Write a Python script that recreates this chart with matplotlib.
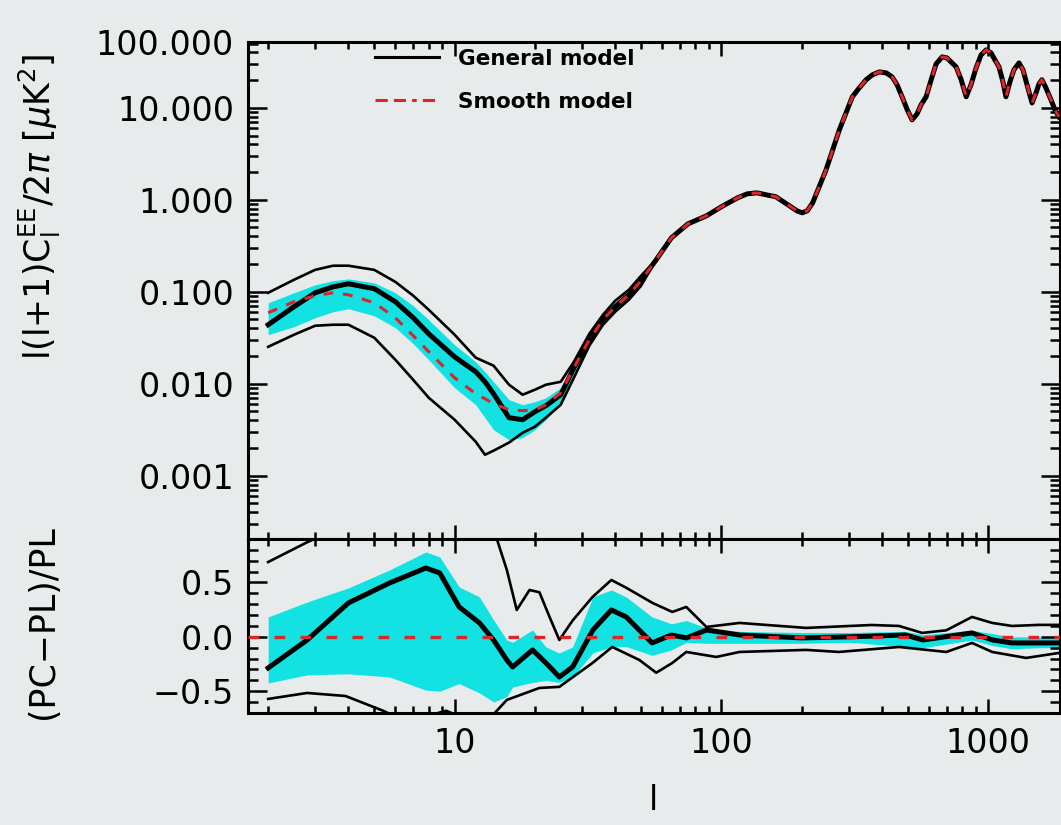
import matplotlib
matplotlib.use("Agg")
import matplotlib.pyplot as plt
from matplotlib.lines import Line2D
from matplotlib.ticker import LogLocator, FixedLocator, FixedFormatter, MultipleLocator, NullFormatter
import numpy as np

plt.rcParams['font.family'] = ['DejaVu Sans']
plt.rcParams['mathtext.fontset'] = 'dejavusans'

BG = '#e7ebeb'
CYAN = '#12e2e2'
RED = '#d8262a'

# ---------------- top panel: EE spectrum ----------------
ell_lo = [2, 2.5, 3, 3.5, 4, 5, 6, 7, 8, 10, 12, 13, 14, 16, 18, 20, 22, 25, 28, 32, 36, 40, 45, 50]
general_lo = [0.0438, 0.0687, 0.0975, 0.113, 0.122, 0.108, 0.0778, 0.0521, 0.0349, 0.0196,
              0.0135, 0.0105, 0.00778, 0.00427, 0.00406, 0.00496, 0.00577, 0.00759, 0.0149,
              0.0301, 0.0496, 0.0687, 0.0927, 0.132]
smooth_lo = [0.0591, 0.0778, 0.0905, 0.0975, 0.0927, 0.0759, 0.0521, 0.0332, 0.0223, 0.0116,
             0.00778, 0.00687, 0.00607, 0.00521, 0.00509, 0.00521, 0.00591, 0.00798, 0.0149,
             0.0301, 0.0496, 0.0687, 0.0927, 0.132]
env_hi_lo = [0.0975, 0.135, 0.173, 0.192, 0.192, 0.173, 0.128, 0.0905, 0.0637, 0.0341,
             0.0192, 0.0173, 0.0157, 0.00975, 0.00759, 0.00861, 0.00975, 0.0105, 0.0173,
             0.0349, 0.0562, 0.0798, 0.105, 0.149]
env_low_lo = [0.0252, 0.0341, 0.0427, 0.0438, 0.0438, 0.0316, 0.0182, 0.0110, 0.00704, 0.00406,
              0.00234, 0.00169, 0.00187, 0.00229, 0.00293, 0.00341, 0.00427, 0.00591, 0.0116,
              0.0259, 0.0438, 0.0606, 0.0818, 0.116]
band_hi_lo = [0.0759, 0.0975, 0.119, 0.132, 0.138, 0.125, 0.0975, 0.0705, 0.0496, 0.0265,
              0.0173, 0.0135, 0.0105, 0.0067, 0.00591, 0.00637, 0.00704, 0.00905, 0.0173,
              0.0332, 0.0535, 0.0741, 0.0975, 0.138]
band_low_lo = [0.0341, 0.0417, 0.0521, 0.0606, 0.0654, 0.0548, 0.0406, 0.0272, 0.0182, 0.00905,
               0.00591, 0.00427, 0.00316, 0.00246, 0.00259, 0.00316, 0.00406, 0.00637, 0.0132,
               0.0272, 0.0461, 0.0637, 0.0882, 0.125]

# acoustic peaks, where both models coincide
ell_hi = [57, 65, 75, 88, 100, 115, 125, 136, 148, 160, 180, 192, 201, 210, 220, 247, 277,
          310, 329, 349, 368, 391, 415, 437, 456, 476, 498, 519, 542, 561, 586, 612, 639,
          673, 702, 726, 759, 793, 828, 863, 902, 942, 984, 1026, 1061, 1099, 1137, 1167,
          1208, 1250, 1306, 1352, 1400, 1462, 1514, 1552, 1592, 1648, 1722, 1782, 1845]
dl_hi = [0.223, 0.386, 0.548, 0.670, 0.839, 1.05, 1.16, 1.19, 1.13, 1.08, 0.861, 0.759, 0.722,
         0.759, 0.927, 2.12, 5.76, 13.2, 16.5, 20.2, 22.8, 24.6, 24.0, 21.7, 17.8, 13.2, 9.51,
         7.41, 8.61, 10.8, 13.2, 20.2, 30.1, 35.8, 34.9, 31.6, 27.9, 20.2, 13.2, 17.8, 27.2,
         37.7, 42.7, 39.6, 33.2, 27.9, 19.2, 13.2, 19.2, 25.9, 30.8, 25.9, 17.8, 11.3, 14.6,
         18.2, 20.2, 16.5, 12.2, 9.51, 7.98]

# ---------------- bottom panel: relative difference ----------------
ell_rel = [2, 2.8, 4, 5.7, 7.8, 8.8, 10.4, 12.4, 14, 15.7, 16.5, 19.6, 22, 24.7, 27.7, 33,
           38.7, 44, 55, 65, 74, 88, 117, 200, 300, 490, 570, 870, 1040, 1230, 1550, 1850]
rel_general = [-0.286, -0.029, 0.312, 0.495, 0.633, 0.587, 0.275, 0.128, -0.029, -0.213, -0.277,
               -0.121, -0.24, -0.369, -0.277, 0.063, 0.247, 0.183, -0.056, 0.017, -0.010, 0.063,
               0.017, -0.010, 0.0, 0.017, -0.029, 0.036, -0.029, -0.056, -0.056, -0.056]
rel_band_hi = [0.183, 0.32, 0.45, 0.615, 0.78, 0.735, 0.459, 0.367, 0.155, -0.029, -0.05, 0.063,
               -0.093, -0.148, -0.093, 0.367, 0.431, 0.367, 0.183, 0.12, 0.15, 0.08, 0.05, 0.04,
               0.04, 0.05, 0.02, 0.06, 0.03, 0.0, 0.0, 0.0]
rel_band_low = [-0.424, -0.35, -0.34, -0.369, -0.49, -0.5, -0.43, -0.516, -0.599, -0.55, -0.461,
                -0.42, -0.40, -0.42, -0.369, -0.148, -0.093, -0.09, -0.17, -0.12, -0.05, -0.06,
                -0.06, -0.06, -0.05, -0.09, -0.10, -0.03, -0.08, -0.11, -0.10, -0.10]

ell_rel_up = [2, 2.8, 3.7, 6.2, 12.4, 13.5, 14.4, 15.7, 17.1, 19.1, 20.8, 22.7, 24.7, 27.7, 32.9,
              38.7, 44.1, 55.2, 65.5, 73.9, 87.9, 117, 208, 366, 464, 566, 697, 871, 1036, 1230,
              1552, 1845]
rel_env_up = [0.688, 0.87, 1.0, 1.3, 1.3, 1.05, 0.9, 0.615, 0.247, 0.431, 0.41, 0.183, -0.029,
              0.15, 0.367, 0.523, 0.45, 0.312, 0.229, 0.275, 0.091, 0.128, 0.082, 0.109, 0.10,
              0.036, 0.06, 0.183, 0.128, 0.10, 0.11, 0.11]
ell_rel_dn = [2, 2.8, 3.9, 5.4, 6.2, 8.1, 9.3, 10.9, 13.9, 15.7, 20.8, 24.7, 32.9, 39.0, 49.3,
              57, 65.5, 73.9, 95.7, 117, 208, 276, 464, 697, 871, 1036, 1389, 1845]
rel_env_dn = [-0.571, -0.516, -0.544, -0.68, -0.75, -0.72, -0.68, -0.75, -0.72, -0.58, -0.47,
              -0.46, -0.24, -0.093, -0.213, -0.33, -0.24, -0.139, -0.185, -0.139, -0.12, -0.139,
              -0.093, -0.139, -0.056, -0.139, -0.194, -0.148]

x_ticks = [10, 100, 1000]
x_ticklabels = ['10', '100', '1000']
y_ticks_top = [1e-3, 1e-2, 1e-1, 1, 10, 52]
y_ticklabels_top = ['0.001', '0.010', '0.100', '1.000', '10.000', '100.000']
y_ticks_bot = [-0.5, 0.0, 0.5]
y_ticklabels_bot = ['\u22120.5', '0.0', '0.5']

XLIM = (1.68, 1860)

# ---------------- figure ----------------
fig = plt.figure(figsize=(10.61, 8.25), dpi=100, facecolor=BG)
ax = fig.add_axes([0.2337, 0.3467, 0.7653, 0.6024], facecolor=BG)
axb = fig.add_axes([0.2337, 0.1358, 0.7653, 0.2109], facecolor=BG, sharex=ax)

ell_gen = ell_lo + ell_hi
gen = general_lo + dl_hi
smo = smooth_lo + dl_hi
env_up = env_hi_lo + dl_hi
env_dn = env_low_lo + dl_hi
b_up = band_hi_lo + dl_hi
b_dn = band_low_lo + dl_hi

ax.fill_between(ell_gen, b_dn, b_up, color=CYAN, lw=0, zorder=1)
ax.plot(ell_gen, env_up, color='black', lw=1.9, zorder=2)
ax.plot(ell_gen, env_dn, color='black', lw=1.9, zorder=2)
ax.plot(ell_gen, gen, color='black', lw=3.6, zorder=3, solid_joinstyle='round')
ax.plot(ell_gen, smo, color=RED, lw=2.2, dashes=(3.2, 3.2), zorder=4)

ax.set_xscale('log')
ax.set_yscale('log')
ax.set_xlim(*XLIM)
ax.set_ylim(2.05e-4, 52)

ax.yaxis.set_major_locator(FixedLocator(y_ticks_top))
ax.yaxis.set_major_formatter(FixedFormatter(y_ticklabels_top))
ax.yaxis.set_minor_locator(LogLocator(base=10, subs=np.arange(2, 10)))
ax.yaxis.set_minor_formatter(NullFormatter())

ax.set_ylabel(r'l(l+1)C$_\mathregular{l}^\mathregular{EE}$/2$\pi$ [$\mu$K$^\mathregular{2}$]',
              fontsize=25)
ax.yaxis.set_label_coords(-0.228, 0.668)

legend_handles = [Line2D([], [], color='black', lw=2.2),
                  Line2D([], [], color=RED, lw=2.2, linestyle=(0, (4, 2, 4, 2, 1.5, 2)))]
ax.legend(legend_handles, ['General model', 'Smooth model'], loc='upper left',
          bbox_to_anchor=(0.156, 0.986), frameon=False, handlelength=3.0,
          handletextpad=0.85, labelspacing=1.05, borderpad=0, borderaxespad=0,
          prop={'weight': 'bold', 'size': 15.5})

# bottom panel
axb.fill_between(ell_rel, rel_band_low, rel_band_hi, color=CYAN, lw=0, zorder=1)
axb.plot(ell_rel_up, rel_env_up, color='black', lw=1.9, zorder=2)
axb.plot(ell_rel_dn, rel_env_dn, color='black', lw=1.9, zorder=2)
axb.plot(ell_rel, rel_general, color='black', lw=3.6, zorder=3, solid_joinstyle='round')
axb.axhline(0.0, color=RED, lw=2.4, dashes=(3.2, 4.6), zorder=4)
axb.set_ylim(-0.7, 0.9)
axb.yaxis.set_major_locator(FixedLocator(y_ticks_bot))
axb.yaxis.set_major_formatter(FixedFormatter(y_ticklabels_bot))
axb.yaxis.set_minor_locator(MultipleLocator(0.1))
axb.set_ylabel('(PC\u2212PL)/PL', fontsize=25)
axb.yaxis.set_label_coords(-0.232, 0.52)

axb.xaxis.set_major_locator(FixedLocator(x_ticks))
axb.xaxis.set_major_formatter(FixedFormatter(x_ticklabels))
axb.xaxis.set_minor_locator(LogLocator(base=10, subs=np.arange(2, 10)))
axb.xaxis.set_minor_formatter(NullFormatter())
axb.set_xlabel('l', fontsize=24)
axb.xaxis.set_label_coords(0.5, -0.41)

for a in (ax, axb):
    for s in a.spines.values():
        s.set_linewidth(2.2)
    a.tick_params(which='both', direction='in', top=True, right=True, width=1.8,
                  labelsize=24, pad=10)
    a.tick_params(which='major', length=10)
    a.tick_params(which='minor', length=5)
ax.tick_params(axis='y', which='major', length=14)
ax.tick_params(axis='y', which='minor', length=7)
axb.tick_params(axis='y', which='major', length=14)
axb.tick_params(axis='y', which='minor', length=7)
plt.setp(ax.get_xticklabels(), visible=False)

fig.savefig('out.png', dpi=100, facecolor=BG)
